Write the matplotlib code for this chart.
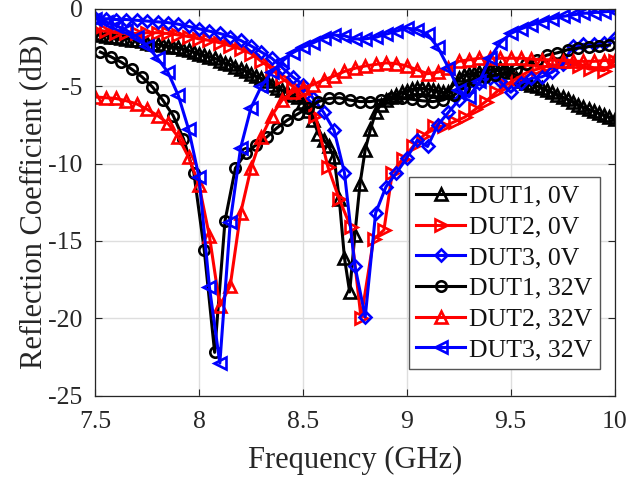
import numpy as np
import matplotlib
matplotlib.use("Agg")
import matplotlib.pyplot as plt

plt.rcParams['font.family'] = ['Liberation Serif', 'DejaVu Serif']
plt.rcParams['axes.unicode_minus'] = False

# ---------------- data (frequency in GHz, reflection coefficient in dB) ----------------
f_dut1_0v = [7.500, 7.525, 7.550, 7.575, 7.600, 7.625, 7.650, 7.675, 7.700, 7.725,
             7.750, 7.775, 7.800, 7.825, 7.850, 7.875, 7.900, 7.925, 7.950, 7.975,
             8.000, 8.025, 8.050, 8.075, 8.100, 8.125, 8.150, 8.175, 8.200, 8.225,
             8.250, 8.275, 8.300, 8.325, 8.350, 8.375, 8.400, 8.425, 8.450, 8.475,
             8.500, 8.525, 8.550, 8.575, 8.600, 8.625, 8.650, 8.675, 8.700, 8.725,
             8.750, 8.775, 8.800, 8.825, 8.850, 8.875, 8.900, 8.925, 8.950, 8.975,
             9.000, 9.025, 9.050, 9.075, 9.100, 9.125, 9.150, 9.175, 9.200, 9.225,
             9.250, 9.275, 9.300, 9.325, 9.350, 9.375, 9.400, 9.425, 9.450, 9.475,
             9.500, 9.525, 9.550, 9.575, 9.600, 9.625, 9.650, 9.675, 9.700, 9.725,
             9.750, 9.775, 9.800, 9.825, 9.850, 9.875, 9.900, 9.925, 9.950, 9.975,
             10.000]
s_dut1_0v = [-1.6, -1.7, -1.75, -1.8, -1.85, -1.9, -1.95, -2.0, -2.05, -2.1,
             -2.2, -2.25, -2.3, -2.35, -2.4, -2.45, -2.5, -2.6, -2.7, -2.8,
             -2.9, -3.0, -3.1, -3.2, -3.35, -3.5, -3.6, -3.75, -3.9, -4.0,
             -4.2, -4.35, -4.5, -4.7, -4.9, -5.1, -5.25, -5.4, -5.55, -5.7,
             -6.0, -6.6, -7.2, -8.1, -8.5, -8.9, -9.6, -12.3, -16.1, -18.3,
             -14.6, -11.3, -9.1, -7.8, -6.7, -6.2, -5.9, -5.7, -5.55, -5.4,
             -5.3, -5.2, -5.15, -5.15, -5.2, -5.25, -5.3, -5.4, -5.35, -4.9,
             -4.5, -4.3, -4.2, -4.15, -4.1, -4.0, -3.95, -3.9, -3.85, -3.85,
             -4.1, -4.5, -4.7, -4.8, -4.9, -5.0, -5.1, -5.25, -5.4, -5.55,
             -5.7, -5.85, -6.0, -6.2, -6.35, -6.5, -6.6, -6.75, -6.85, -7.0,
             -7.1]

f_dut2_0v = [7.50, 7.55, 7.60, 7.65, 7.70, 7.75, 7.80, 7.85, 7.90, 7.95,
             8.00, 8.05, 8.10, 8.15, 8.20, 8.25, 8.30, 8.35, 8.40, 8.45,
             8.50, 8.56, 8.62, 8.675, 8.73, 8.78, 8.84, 8.89, 8.93, 8.98,
             9.03, 9.08, 9.13, 9.18, 9.23, 9.28, 9.33, 9.38, 9.43, 9.48,
             9.53, 9.58, 9.63, 9.68, 9.73, 9.78, 9.83, 9.88, 9.95, 10.00]
s_dut2_0v = [-1.4, -1.45, -1.55, -1.6, -1.6, -1.55, -1.55, -1.6, -1.7, -1.8,
             -1.95, -2.05, -2.2, -2.4, -2.6, -2.9, -3.4, -3.9, -4.5, -5.0,
             -5.4, -6.9, -10.2, -12.3, -14.1, -20.0, -14.9, -14.3, -10.6, -9.7,
             -8.9, -8.2, -7.6, -7.6, -7.3, -7.0, -6.5, -6.0, -5.4, -4.9,
             -4.5, -4.1, -3.9, -3.7, -3.6, -3.5, -3.7, -3.9, -4.0, -3.4]

f_dut3_0v = [7.50, 7.55, 7.60, 7.65, 7.70, 7.75, 7.80, 7.85, 7.90, 7.95,
             8.00, 8.05, 8.10, 8.15, 8.20, 8.25, 8.30, 8.35, 8.40, 8.45,
             8.50, 8.55, 8.60, 8.65, 8.70, 8.75, 8.80, 8.85, 8.90, 8.95,
             9.00, 9.05, 9.10, 9.15, 9.20, 9.25, 9.30, 9.35, 9.40, 9.45,
             9.50, 9.55, 9.60, 9.65, 9.70, 9.75, 9.80, 9.85, 9.90, 9.95,
             10.00]
s_dut3_0v = [-0.6, -0.65, -0.7, -0.7, -0.75, -0.8, -0.85, -0.9, -1.0, -1.15,
             -1.3, -1.45, -1.6, -1.8, -2.05, -2.4, -2.8, -3.2, -3.8, -4.4,
             -4.9, -5.8, -6.7, -7.85, -10.6, -16.6, -19.9, -13.2, -11.5, -10.6,
             -9.65, -8.5, -8.9, -7.5, -6.7, -5.9, -5.1, -4.8, -4.5, -4.7,
             -5.4, -4.8, -4.5, -4.4, -4.1, -3.6, -2.4, -2.3, -2.3, -2.2,
             -1.9]

f_dut1_32v = [7.525, 7.575, 7.625, 7.675, 7.725, 7.775, 7.825, 7.875, 7.925, 7.975,
              8.025, 8.075, 8.125, 8.175, 8.225, 8.275, 8.325, 8.375, 8.425, 8.475,
              8.525, 8.575, 8.625, 8.675, 8.725, 8.775, 8.825, 8.875, 8.925, 8.975,
              9.025, 9.075, 9.125, 9.175, 9.225, 9.275, 9.325, 9.375, 9.425, 9.475,
              9.525, 9.575, 9.625, 9.675, 9.725, 9.775, 9.825, 9.875, 9.925, 9.975]
s_dut1_32v = [-2.8, -3.1, -3.45, -3.9, -4.4, -5.05, -5.9, -6.9, -8.4, -10.6,
              -15.6, -22.2, -13.7, -10.3, -9.3, -8.8, -8.3, -7.7, -7.2, -6.8,
              -6.4, -6.0, -5.8, -5.75, -5.9, -6.0, -6.0, -5.9, -5.8, -5.8,
              -5.85, -5.95, -6.0, -5.9, -5.6, -5.1, -4.6, -4.4, -4.3, -4.1,
              -3.9, -3.6, -3.3, -3.0, -2.85, -2.65, -2.55, -2.45, -2.4, -2.35]

f_dut2_32v = [7.50, 7.55, 7.60, 7.65, 7.70, 7.75, 7.80, 7.85, 7.90, 7.95,
              8.00, 8.05, 8.10, 8.15, 8.20, 8.25, 8.30, 8.35, 8.40, 8.45,
              8.50, 8.55, 8.60, 8.65, 8.70, 8.75, 8.80, 8.85, 8.90, 8.95,
              9.00, 9.05, 9.10, 9.15, 9.20, 9.25, 9.30, 9.35, 9.40, 9.45,
              9.50, 9.55, 9.60, 9.65, 9.70, 9.75, 9.80, 9.85, 9.90, 9.95,
              10.00]
s_dut2_32v = [-5.7, -5.75, -5.8, -5.95, -6.15, -6.5, -6.9, -7.4, -8.3, -9.6,
              -11.4, -14.7, -19.2, -17.9, -13.2, -10.3, -8.3, -6.9, -5.9, -5.4,
              -5.1, -4.9, -4.6, -4.35, -4.05, -3.85, -3.7, -3.6, -3.5, -3.55,
              -3.7, -3.95, -4.2, -4.1, -3.8, -3.4, -3.3, -3.2, -3.2, -3.2,
              -3.2, -3.2, -3.25, -3.3, -3.3, -3.35, -3.4, -3.4, -3.4, -3.35,
              -3.3]

f_dut3_32v = [7.50, 7.55, 7.60, 7.65, 7.70, 7.75, 7.80, 7.85, 7.90, 7.95,
              8.00, 8.05, 8.10, 8.15, 8.20, 8.25, 8.30, 8.35, 8.40, 8.45,
              8.50, 8.55, 8.60, 8.65, 8.70, 8.75, 8.80, 8.85, 8.90, 8.95,
              9.00, 9.05, 9.10, 9.15, 9.20, 9.25, 9.30, 9.35, 9.40, 9.45,
              9.50, 9.55, 9.60, 9.65, 9.70, 9.75, 9.80, 9.85, 9.90, 9.95,
              10.00]
s_dut3_32v = [-0.65, -0.85, -1.1, -1.4, -1.8, -2.4, -3.2, -4.1, -5.6, -7.8,
              -10.9, -18.0, -22.9, -13.8, -9.0, -6.4, -5.0, -4.1, -3.4, -2.85,
              -2.5, -2.2, -1.9, -1.7, -1.75, -1.95, -1.95, -1.85, -1.65, -1.45,
              -1.25, -1.35, -1.65, -2.5, -3.8, -5.25, -5.7, -4.7, -3.2, -2.2,
              -1.6, -1.3, -1.05, -0.85, -0.65, -0.5, -0.4, -0.3, -0.25, -0.2,
              -0.15]

labels = ['DUT1, 0V', 'DUT2, 0V', 'DUT3, 0V', 'DUT1, 32V', 'DUT2, 32V', 'DUT3, 32V']
x_ticks = [7.5, 8, 8.5, 9, 9.5, 10]
x_ticklabels = ['7.5', '8', '8.5', '9', '9.5', '10']
y_ticks = [-25, -20, -15, -10, -5, 0]

# ---------------- figure ----------------
fig = plt.figure(figsize=(6.3, 4.83), dpi=100)
ax = fig.add_axes([0.1511, 0.1807, 0.8243, 0.8013])

series = [
    (f_dut1_0v, s_dut1_0v, 'k', '^', 8),
    (f_dut2_0v, s_dut2_0v, '#ff0000', '>', 8),
    (f_dut3_0v, s_dut3_0v, '#0000ff', 'D', 6.5),
    (f_dut1_32v, s_dut1_32v, 'k', 'o', 7.5),
    (f_dut2_32v, s_dut2_32v, '#ff0000', '^', 8),
    (f_dut3_32v, s_dut3_32v, '#0000ff', '<', 8),
]
for (f, s, c, m, ms), lab in zip(series, labels):
    ax.plot(f, s, color=c, marker=m, markersize=ms, markerfacecolor='none',
            markeredgewidth=1.9, linewidth=2.2, label=lab, clip_on=True)

ax.set_xlim(7.5, 10)
ax.set_ylim(-25, 0)
ax.set_xticks(x_ticks)
ax.set_xticklabels(x_ticklabels)
ax.set_yticks(y_ticks)
ax.grid(True, color='#dedede', linewidth=1.0)
ax.set_axisbelow(True)
ax.tick_params(direction='in', length=5, width=0.8, labelsize=18.5,
               top=True, right=True, colors='#262626', labelcolor='#262626')
ax.tick_params(axis='x', pad=11)
ax.tick_params(axis='y', pad=9)
for sp in ax.spines.values():
    sp.set_color('#262626')
    sp.set_linewidth(0.9)

ax.set_xlabel('Frequency (GHz)', fontsize=22, color='#262626')
ax.set_ylabel('Reflection Coefficient (dB)', fontsize=22, color='#262626')
ax.xaxis.set_label_coords(0.5, -0.13)
ax.yaxis.set_label_coords(-0.088, 0.5)

leg = ax.legend(loc='lower right', bbox_to_anchor=(0.972, 0.069), borderaxespad=0,
                fontsize=18.5, handlelength=1.9, handletextpad=0.15, labelspacing=0.3,
                borderpad=0.3, fancybox=False, framealpha=1, edgecolor='#555555')
leg.get_frame().set_linewidth(1.0)
for t in leg.get_texts():
    t.set_color('#111111')

fig.savefig('out.png', dpi=100)
